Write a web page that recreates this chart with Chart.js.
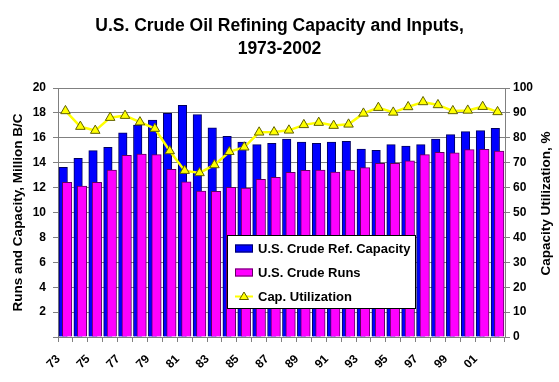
<!DOCTYPE html>
<html>
<head>
<meta charset="utf-8">
<script src="https://cdn.jsdelivr.net/npm/chart.js@4.4.0/dist/chart.umd.min.js"></script>
<style>
  html, body { margin: 0; padding: 0; background: #fff; }
</style>
</head>
<body>
<canvas id="chart" width="559" height="382"></canvas>
<script>
const years = ['1973','1974','1975','1976','1977','1978','1979','1980','1981','1982',
               '1983','1984','1985','1986','1987','1988','1989','1990','1991','1992',
               '1993','1994','1995','1996','1997','1998','1999','2000','2001','2002'];
const capacity = [13.63, 14.35, 14.97, 15.24, 16.39, 17.03, 17.43, 17.97, 18.61, 17.86,
                  16.81, 16.12, 15.66, 15.45, 15.56, 15.90, 15.66, 15.56, 15.66, 15.72,
                  15.10, 15.00, 15.45, 15.34, 15.45, 15.90, 16.25, 16.49, 16.57, 16.76];
const runs = [12.42, 12.13, 12.42, 13.41, 14.59, 14.70, 14.65, 13.47, 12.47, 11.73,
              11.70, 12.02, 11.97, 12.67, 12.83, 13.22, 13.39, 13.41, 13.25, 13.41,
              13.60, 13.95, 13.95, 14.16, 14.65, 14.83, 14.80, 15.05, 15.07, 14.94];
const utilization = [90.8, 84.5, 82.9, 88.1, 88.9, 86.3, 83.7, 74.7, 66.8, 65.9,
                     69.1, 74.4, 76.2, 82.2, 82.3, 83.0, 85.2, 86.1, 84.9, 85.4,
                     89.8, 92.1, 90.2, 92.4, 94.4, 93.2, 90.8, 91.0, 92.5, 90.4];
const xTickLabels = ['73','75','77','79','81','83','85','87','89','91','93','95','97','99','01'];

const FONT = '"Liberation Sans", Arial, sans-serif';
Chart.defaults.font.family = FONT;
Chart.defaults.color = '#000';

// bars sit a little left/right of the category centre and overlap (Excel style)
const firstYear = +years[0], lastYear = +years[years.length - 1];
function shiftedAxis(shift) {
  return {
    type: 'linear', display: false, position: 'bottom', offset: false,
    min: firstYear - 0.5 - shift, max: lastYear + 0.5 - shift,
    grid: { offset: false }
  };
}

const boxLegend = {
  id: 'boxLegend',
  afterDraw(chart) {
    const { ctx, chartArea: a } = chart;
    const x = a.left + 169, y = a.top + 147, w = 188, h = 73;
    ctx.save();
    ctx.fillStyle = '#fff';
    ctx.fillRect(x, y, w, h);
    ctx.strokeStyle = '#000';
    ctx.lineWidth = 1;
    ctx.strokeRect(x + 0.5, y + 0.5, w, h);
    ctx.font = 'bold 13px ' + FONT;
    ctx.textBaseline = 'middle';
    chart.data.datasets.forEach((ds, i) => {
      const cy = y + 13.5 + i * 24;
      const sx = x + 8;
      if (ds.type === 'bar') {
        ctx.fillStyle = ds.backgroundColor;
        ctx.fillRect(sx, cy - 4, 18, 8);
        ctx.strokeStyle = ds.borderColor;
        ctx.strokeRect(sx + 0.5, cy - 3.5, 17, 7);
      } else {
        ctx.strokeStyle = ds.borderColor;
        ctx.lineWidth = 2;
        ctx.beginPath(); ctx.moveTo(sx, cy); ctx.lineTo(sx + 18, cy); ctx.stroke();
        ctx.lineWidth = 1;
        ctx.fillStyle = ds.pointBackgroundColor;
        ctx.strokeStyle = ds.pointBorderColor;
        ctx.beginPath();
        ctx.moveTo(sx + 9, cy - 4.5); ctx.lineTo(sx + 13.5, cy + 3); ctx.lineTo(sx + 4.5, cy + 3);
        ctx.closePath(); ctx.fill(); ctx.stroke();
      }
      ctx.fillStyle = '#000';
      ctx.fillText(ds.label, x + 31, cy + 0.5);
    });
    // right axis title, reads bottom to top
    ctx.font = 'bold 13.5px ' + FONT;
    ctx.translate(546, (a.top + a.bottom) / 2 - 9);
    ctx.rotate(-Math.PI / 2);
    ctx.textAlign = 'center';
    ctx.fillText('Capacity Utilization, %', 0, 0);
    ctx.restore();
  }
};

new Chart(document.getElementById('chart'), {
  type: 'bar',
  data: {
    labels: years,
    datasets: [
      { type: 'bar', label: 'U.S. Crude Ref. Capacity', data: capacity,
        xAxisID: 'xb', yAxisID: 'y', grouped: false, order: 2,
        backgroundColor: '#0000ff', borderColor: '#000060', borderWidth: 1, barThickness: 8.5 },
      { type: 'bar', label: 'U.S. Crude Runs', data: runs,
        xAxisID: 'xm', yAxisID: 'y', grouped: false, order: 1,
        backgroundColor: '#ff00ff', borderColor: '#600060', borderWidth: 1, barThickness: 9.5 },
      { type: 'line', label: 'Cap. Utilization', data: utilization,
        xAxisID: 'x', yAxisID: 'y2', order: 0,
        borderColor: '#ffff00', borderWidth: 2.5, tension: 0,
        pointStyle: 'triangle', pointRadius: 5.5,
        pointBackgroundColor: '#ffff00', pointBorderColor: '#606000', pointBorderWidth: 1 }
    ]
  },
  options: {
    responsive: false,
    animation: false,
    layout: { padding: 0 },
    plugins: {
      legend: { display: false },
      tooltip: { enabled: false },
      title: {
        display: true,
        text: ['U.S. Crude Oil Refining Capacity and Inputs,', '1973-2002'],
        color: '#000',
        font: { size: 17.5, weight: 'bold', lineHeight: 1.3 },
        padding: { top: 15, bottom: 27.5 }
      }
    },
    scales: {
      x: {
        type: 'category', position: 'bottom', offset: true,
        afterFit: s => { s.height = 45; },
        grid: { offset: true, drawOnChartArea: false, color: '#808080', tickLength: 5 },
        border: { color: '#808080' },
        ticks: {
          autoSkip: false, maxRotation: 45, minRotation: 45, labelOffset: -7, padding: 10,
          font: { size: 12, weight: 'bold' },
          callback: (v, i) => {
            const s = years[i].slice(2);
            return xTickLabels.includes(s) ? s : '';
          }
        }
      },
      xb: shiftedAxis(-0.15),
      xm: shiftedAxis(0.11),
      y: {
        position: 'left', min: 0, max: 20,
        afterFit: s => { s.width = 58; },
        ticks: { stepSize: 2, padding: 7, font: { size: 12, weight: 'bold' },
                 callback: v => v === 0 ? '' : v },
        grid: { color: '#808080', tickLength: 5 },
        border: { color: '#808080' },
        title: { display: true, text: 'Runs and Capacity, Million B/C',
                 font: { size: 13.5, weight: 'bold' }, padding: { top: 10, bottom: 0 } }
      },
      y2: {
        position: 'right', min: 0, max: 100,
        afterFit: s => { s.width = 54; },
        ticks: { stepSize: 10, padding: 3, font: { size: 12, weight: 'bold' } },
        grid: { drawOnChartArea: false, color: '#808080', tickLength: 5 },
        border: { color: '#808080' }
      }
    }
  },
  plugins: [boxLegend]
});
</script>
</body>
</html>
